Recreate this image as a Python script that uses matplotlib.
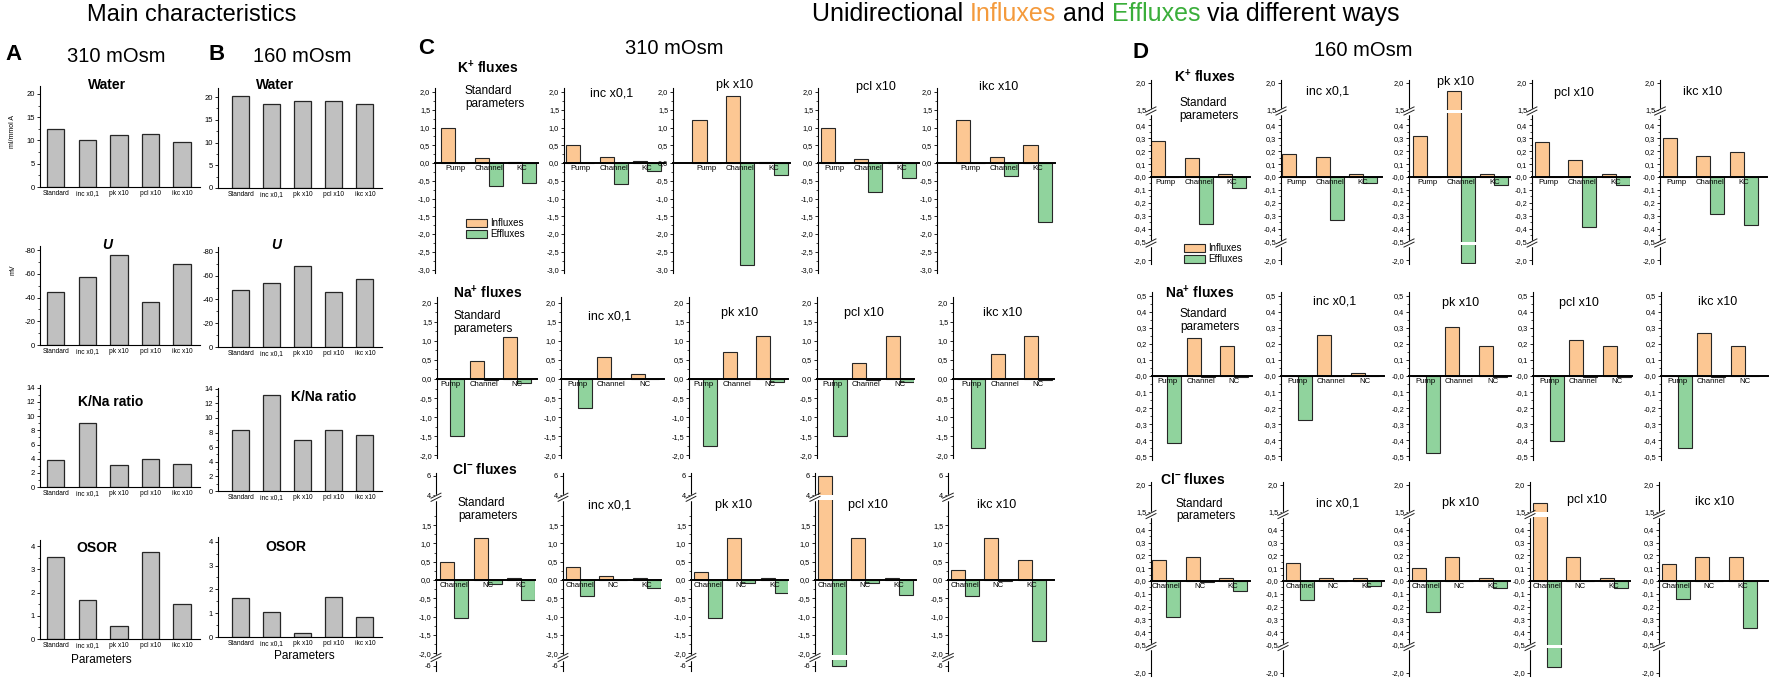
import numpy as np
import matplotlib
matplotlib.use("Agg")
import matplotlib.pyplot as plt
from matplotlib.patches import Patch
from matplotlib.text import Annotation

W, H = 1772, 681

plt.rcParams['font.family'] = ['Liberation Sans', 'DejaVu Sans']
plt.rcParams['mathtext.fontset'] = 'custom'
plt.rcParams['mathtext.rm'] = 'Liberation Sans'
plt.rcParams['mathtext.bf'] = 'Liberation Sans:bold'
plt.rcParams['mathtext.it'] = 'Liberation Sans:italic'

# ---- main characteristics (panels A, B) ----
params = ['Standard', 'inc x0,1', 'pk x10', 'pcl x10', 'ikc x10']
water_310 = [12.5, 10.0, 11.1, 11.3, 9.7]
water_160 = [20.2, 18.4, 19.1, 19.1, 18.4]
u_310 = [-45, -57, -76, -36, -68]
u_160 = [-48, -54, -68, -46, -57]
kna_310 = [3.8, 9.0, 3.1, 3.9, 3.2]
kna_160 = [8.3, 13.1, 7.0, 8.4, 7.7]
osor_310 = [3.52, 1.67, 0.55, 3.75, 1.5]
osor_160 = [1.65, 1.05, 0.15, 1.68, 0.85]

# ---- unidirectional fluxes (panels C, D) ----
panel_titles = ['Standard\nparameters', 'inc x0,1', 'pk x10', 'pcl x10', 'ikc x10']
k_ways = ['Pump', 'Channel', 'KC']
na_ways = ['Pump', 'Channel', 'NC']
cl_ways = ['Channel', 'NC', 'KC']

k_in_310 = [[1.0, 0.13, 0.04], [0.51, 0.17, 0.06], [1.21, 1.9, 0.03], [1.0, 0.1, 0.04], [1.22, 0.17, 0.52]]
k_out_310 = [[0, -0.64, -0.55], [0, -0.58, -0.23], [0, -2.87, -0.34], [0, -0.83, -0.41], [0, -0.38, -1.65]]
na_in_310 = [[0, 0.48, 1.11], [0, 0.58, 0.12], [0, 0.71, 1.13], [0, 0.43, 1.13], [0, 0.65, 1.13]]
na_out_310 = [[-1.48, -0.02, -0.1], [-0.76, 0, 0], [-1.75, 0, -0.08], [-1.48, -0.02, -0.07], [-1.81, 0, -0.03]]
cl_in_310 = [[0.48, 1.15, 0.06], [0.36, 0.12, 0.06], [0.22, 1.14, 0.06], [5.95, 1.14, 0.06], [0.27, 1.14, 0.55]]
cl_out_310 = [[-1.05, -0.11, -0.54], [-0.45, 0, -0.23], [-1.04, -0.09, -0.36], [-6.05, -0.07, -0.41], [-0.43, -0.03, -1.66]]

k_in_160 = [[0.28, 0.145, 0.02], [0.18, 0.155, 0.02], [0.32, 1.85, 0.02], [0.27, 0.135, 0.02], [0.30, 0.16, 0.19]]
k_out_160 = [[0, -0.365, -0.085], [0, -0.33, -0.045], [0, -2.07, -0.065], [0, -0.385, -0.065], [0, -0.29, -0.375]]
na_in_160 = [[0, 0.235, 0.185], [0, 0.255, 0.02], [0, 0.305, 0.185], [0, 0.225, 0.185], [0, 0.265, 0.185]]
na_out_160 = [[-0.415, -0.005, -0.005], [-0.275, 0, 0], [-0.48, 0, -0.005], [-0.405, -0.005, -0.005], [-0.445, -0.005, 0]]
cl_in_160 = [[0.165, 0.185, 0.025], [0.14, 0.025, 0.025], [0.1, 0.185, 0.025], [1.67, 0.185, 0.025], [0.13, 0.185, 0.19]]
cl_out_160 = [[-0.28, -0.005, -0.08], [-0.145, 0, -0.04], [-0.245, 0, -0.055], [-1.87, 0, -0.055], [-0.14, 0, -0.37]]

ORANGE = '#fcc793'
GREEN = '#90d39d'
GREY = '#c0c0c0'
EDGE = '#262626'

fig = plt.figure(figsize=(W / 100, H / 100), dpi=100)


def px_box(x0, x1, yt, yb):
    return [x0 / W, 1 - yb / H, (x1 - x0) / W, (yb - yt) / H]


def put(x, y, s, **kw):
    kw.setdefault('va', 'center')
    return fig.text(x / W, 1 - y / H, s, **kw)


def fmt(v):
    if abs(v) >= 4:
        return str(int(round(v)))
    return ('%.1f' % v).replace('.', ',')


def make_scale(knots):
    v = np.array([k[0] for k in knots], float)
    u = np.array([k[1] for k in knots], float)
    s0 = (u[1] - u[0]) / (v[1] - v[0])
    s1 = (u[-1] - u[-2]) / (v[-1] - v[-2])
    v = np.r_[v[0] - 1000, v, v[-1] + 1000]
    u = np.r_[u[0] - 1000 * s0, u, u[-1] + 1000 * s1]

    def fwd(x):
        return np.interp(x, v, u)

    def inv(y):
        return np.interp(y, u, v)
    return fwd, inv


# ---------- panels A and B ----------
a_x, b_x = (40, 200), (218, 382)
a_xlim, b_xlim = (-0.5, 4.57), (-0.73, 4.55)
a_boxes = [(86, 187), (245.5, 345), (385, 487), (540, 639)]
b_boxes = [(88, 188), (247, 347), (388, 491), (537, 637)]
a_ylims = [(0, 21.7), (0, -84), (0, 14.4), (0, 4.26)]
b_ylims = [(0, 22), (0, -84.2), (0, 14.1), (0, 4.2)]
majors = [np.arange(0, 21, 5), np.arange(-80, 1, 20), np.arange(0, 15, 2), np.arange(0, 4.1, 1)]
minors = [np.arange(0, 21, 2.5), np.arange(-80, 1, 10), np.arange(0, 15, 1), np.arange(0, 4.1, 0.5)]
char_names = ['Water', 'U', 'K/Na ratio', 'OSOR']
a_title_pos = [(107, 85), (107, 245), (111, 402), (97, 548)]
b_title_pos = [(275, 85), (276, 245), (324, 397), (286, 547)]

for col, (xs, xl, boxes, ylims, series, tpos) in enumerate([
        (a_x, a_xlim, a_boxes, a_ylims, [water_310, u_310, kna_310, osor_310], a_title_pos),
        (b_x, b_xlim, b_boxes, b_ylims, [water_160, u_160, kna_160, osor_160], b_title_pos)]):
    for r in range(4):
        ax = fig.add_axes(px_box(xs[0], xs[1], boxes[r][0], boxes[r][1]))
        ax.bar(range(5), series[r], width=0.55, color=GREY, edgecolor=EDGE, linewidth=0.9)
        ax.set_xlim(xl)
        ax.set_ylim(ylims[r])
        ax.set_yticks(majors[r], ['%g' % t for t in majors[r]])
        ax.set_yticks(minors[r], minor=True)
        ax.set_xticks(range(5), params)
        ax.tick_params(axis='x', length=0, labelsize=4.8, pad=2)
        ax.tick_params(axis='y', labelsize=5.5, length=2.5, width=0.6, pad=1)
        ax.tick_params(axis='y', which='minor', length=1.3, width=0.5)
        for s in ['top', 'right']:
            ax.spines[s].set_visible(False)
        for s in ['left', 'bottom']:
            ax.spines[s].set_linewidth(0.8)
        name = char_names[r]
        if name == 'U':
            put(*tpos[r], name, ha='center', fontsize=10, fontweight='bold', fontstyle='italic')
        else:
            put(*tpos[r], name, ha='center', fontsize=10, fontweight='bold')

put(13, 132, 'ml/mmol A', rotation=90, ha='center', fontsize=5)
put(13, 270, 'mV', rotation=90, ha='center', fontsize=5)
put(101, 660, 'Parameters', ha='center', fontsize=8.5)
put(304, 656, 'Parameters', ha='center', fontsize=8.5)

# ---------- panels C and D ----------
row_specs = {
    'C_K': dict(zero=163, knots=[(-3.1, -110.05), (2.1, 74.55)], ylim=(-3.1, 2.1),
                ticks=np.arange(-3.0, 2.01, 0.5), minor=np.arange(-2.75, 2.0, 0.5), gaps=[]),
    'C_Na': dict(zero=379, knots=[(-2.07, -79.1), (2.15, 82.1)], ylim=(-2.07, 2.15),
                 ticks=np.arange(-2.0, 2.01, 0.5), minor=np.arange(-1.75, 2.0, 0.5), gaps=[]),
    'C_Cl': dict(zero=580, knots=[(-6.6, -91.4), (-5.4, -80), (-2.05, -75), (2.2, 80.5), (4.0, 85), (6.3, 106.9)],
                 ylim=(-6.6, 6.3),
                 ticks=np.r_[-6, np.arange(-2.0, 1.51, 0.5), 4, 6], minor=np.arange(-1.75, 1.8, 0.5),
                 gaps=[(-5.4, -2.05), (2.2, 4.0)]),
    'D_K': dict(zero=177, knots=[(-2.12, -87.3), (-1.5, -67.5), (-0.5, -64.5), (0.5, 64.5), (1.5, 67.5), (2.06, 97.2)],
                ylim=(-2.12, 2.06),
                ticks=np.r_[-2.0, np.arange(-0.5, 0.41, 0.1), 1.5, 2.0], minor=np.arange(-0.45, 0.46, 0.1),
                gaps=[(-1.5, -0.5), (0.5, 1.5)]),
    'D_Na': dict(zero=376, knots=[(-0.52, -83.7), (0.52, 83.7)], ylim=(-0.52, 0.52),
                 ticks=np.arange(-0.5, 0.51, 0.1), minor=np.arange(-0.45, 0.46, 0.1), gaps=[]),
    'D_Cl': dict(zero=581, knots=[(-2.06, -95), (-1.5, -67), (-0.5, -64), (0.5, 64), (1.5, 69), (2.06, 99.2)],
                 ylim=(-2.06, 2.06),
                 ticks=np.r_[-2.0, np.arange(-0.5, 0.41, 0.1), 1.5, 2.0], minor=np.arange(-0.45, 0.46, 0.1),
                 gaps=[(-1.5, -0.5), (0.5, 1.5)]),
}

# horizontal placement of each small panel: spine x, right end x, left limit (in category units)
row_x = {
    'C_K': ([435, 564, 673, 818, 937], [538, 665, 790, 919, 1055], [-0.6, -0.48, -1.0, -0.5, -1.0]),
    'C_Na': ([437, 561, 689, 817, 953], [537, 664, 788, 914, 1054], [-0.4, -0.5, -0.42, -0.47, -0.54]),
    'C_Cl': ([436, 563, 691, 815, 948], [535, 661, 788, 916, 1054], [-0.54, -0.5, -0.5, -0.5, -0.5]),
    'D_K': ([1151, 1281, 1409, 1532, 1660], [1250, 1382, 1510, 1630, 1767], [-0.42, -0.45, -0.55, -0.5, -0.5]),
    'D_Na': ([1152, 1281, 1409, 1533, 1661], [1252, 1384, 1511, 1632, 1768], [-0.45, -0.5, -0.5, -0.5, -0.5]),
    'D_Cl': ([1151, 1283, 1409, 1530, 1659], [1250, 1384, 1510, 1630, 1768], [-0.45, -0.5, -0.5, -0.5, -0.5]),
}

row_titles = {
    'C_K': (r'K$^{\mathbf{+}}$ fluxes', 457, 68), 'C_Na': (r'Na$^{\mathbf{+}}$ fluxes', 453, 293),
    'C_Cl': (r'Cl$^{\mathbf{-}}$ fluxes', 452, 470),
    'D_K': (r'K$^{\mathbf{+}}$ fluxes', 1174, 77), 'D_Na': (r'Na$^{\mathbf{+}}$ fluxes', 1165, 293),
    'D_Cl': (r'Cl$^{\mathbf{-}}$ fluxes', 1160, 480),
}
# (standard text left x, standard text centre y, other titles x list, other titles y list)
sub_pos = {
    'C_K': (465, 97.5, [612, 735, 876, 999], [93, 85, 87, 87]),
    'C_Na': (453, 322.5, [610, 740, 864, 1003], [316, 313, 313, 313]),
    'C_Cl': (458, 509.5, [610, 734, 868, 997], [505, 505, 505, 505]),
    'D_K': (1179, 109.5, [1328, 1456, 1574, 1703], [92, 82, 93, 92]),
    'D_Na': (1180, 320.5, [1335, 1461, 1579, 1718], [302, 303, 303, 302]),
    'D_Cl': (1176, 510, [1338, 1461, 1587, 1715], [503, 503, 500, 502]),
}

flux_data = {
    'C_K': (k_in_310, k_out_310, k_ways), 'C_Na': (na_in_310, na_out_310, na_ways),
    'C_Cl': (cl_in_310, cl_out_310, cl_ways),
    'D_K': (k_in_160, k_out_160, k_ways), 'D_Na': (na_in_160, na_out_160, na_ways),
    'D_Cl': (cl_in_160, cl_out_160, cl_ways),
}

BW = 0.42
PX_PER_CAT = 33.5

for key, spec in row_specs.items():
    ins, outs, ways = flux_data[key]
    lefts, rights, xmins = row_x[key]
    fwd, inv = make_scale(spec['knots'])
    lo, hi = spec['ylim']
    top = spec['zero'] - fwd(hi)
    bot = spec['zero'] - fwd(lo)
    for i in range(5):
        ax = fig.add_axes(px_box(lefts[i], rights[i], top, bot))
        ax.set_yscale('function', functions=(fwd, inv))
        x = np.arange(3)
        ax.bar(x, ins[i], width=-BW, align='edge', color=ORANGE, edgecolor=EDGE, linewidth=0.8, zorder=1)
        ax.bar(x, outs[i], width=BW, align='edge', color=GREEN, edgecolor=EDGE, linewidth=0.8, zorder=1)
        ax.set_xlim(xmins[i], xmins[i] + (rights[i] - lefts[i]) / PX_PER_CAT)
        ax.set_ylim(lo, hi)
        ax.set_yticks(spec['ticks'], [fmt(t) for t in spec['ticks']])
        ax.set_yticks(spec['minor'], minor=True)
        ax.set_xticks(x, ways)
        ax.tick_params(axis='x', length=0, labelsize=5.6, pad=1.5)
        ax.tick_params(axis='y', labelsize=5.3, length=2.5, width=0.6, pad=1)
        ax.tick_params(axis='y', which='minor', length=1.3, width=0.5)
        ax.spines['top'].set_visible(False)
        ax.spines['right'].set_visible(False)
        ax.spines['bottom'].set_position(('data', 0))
        ax.spines['bottom'].set_linewidth(1.4)
        ax.spines['left'].set_linewidth(0.8)
        ax.patch.set_alpha(0)
        tr = ax.get_yaxis_transform()
        for g0, g1 in spec['gaps']:
            ax.axhspan(g0, g1, color='white', lw=0, zorder=2)
            um = (fwd(g0) + fwd(g1)) / 2
            ax.plot([0, 0], inv(np.array([um - 1.5, um + 1.5])), color='white', lw=2.5,
                    transform=tr, clip_on=False, zorder=5)
            for du in (-1.6, 1.6):
                ax.plot([-0.05, 0.05], inv(np.array([um + du - 2.5, um + du + 2.5])), color='#222',
                        lw=0.7, transform=tr, clip_on=False, zorder=6)
        sx, sy, tx, ty = sub_pos[key]
        if i == 0:
            put(sx, sy, panel_titles[0], ha='left', fontsize=8.5, linespacing=1.05)
        else:
            put(tx[i - 1], ty[i - 1], panel_titles[i], ha='center', fontsize=9)
        if key in ('C_K', 'D_K') and i == 0:
            handles = [Patch(facecolor=ORANGE, edgecolor=EDGE, lw=0.8, label='Influxes'),
                       Patch(facecolor=GREEN, edgecolor=EDGE, lw=0.8, label='Effluxes')]
            lx, ly = (466, 218) if key == 'C_K' else (1184, 243)
            fig.legend(handles=handles, loc='upper left', bbox_to_anchor=(lx / W, 1 - ly / H),
                       frameon=False, fontsize=7, handlelength=2.2, handleheight=0.9,
                       labelspacing=0.15, borderpad=0, borderaxespad=0, handletextpad=0.3)
    t, tx0, ty0 = row_titles[key]
    put(tx0, ty0, t, ha='left', fontsize=10, fontweight='bold')

# ---------- headings ----------
put(192, 15, 'Main characteristics', ha='center', fontsize=17)
for letter, lx, ly in [('A', 5, 55), ('B', 208, 55), ('C', 418, 49), ('D', 1133, 53)]:
    put(lx, ly, letter, ha='left', fontsize=16, fontweight='bold')
for s, sx, sy in [('310 mOsm', 67, 57), ('160 mOsm', 253, 57), ('310 mOsm', 625, 48), ('160 mOsm', 1314, 50)]:
    put(sx, sy, s, ha='left', fontsize=14.5)

pieces = [('Unidirectional ', 'black'), ('Influxes', '#f49a3c'), (' and ', 'black'),
          ('Effluxes', '#3aae3a'), (' via different ways', 'black')]
prev = put(812, 15, pieces[0][0], ha='left', fontsize=18, va='bottom')
prev.set_y(1 - 26 / H)
for s, c in pieces[1:]:
    prev = fig.add_artist(Annotation(s, xy=(1, 0), xycoords=prev, va='bottom', ha='left',
                                     color=c, fontsize=18))

fig.savefig('out.png', dpi=100)
